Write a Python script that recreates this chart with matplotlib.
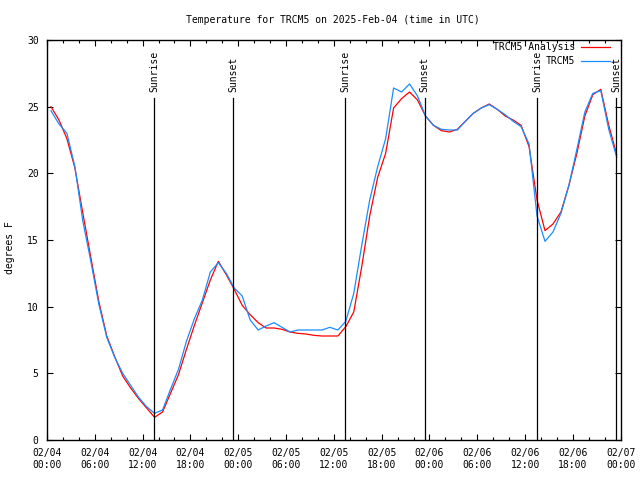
import numpy as np
import matplotlib
matplotlib.use("Agg")
import matplotlib.pyplot as plt
from matplotlib.ticker import MultipleLocator, FixedLocator

plt.rcParams['font.family'] = 'DejaVu Sans Mono'
plt.rcParams['font.size'] = 7

# hours since 2025-02-04 00:00 UTC (values sit on the half hour)
hours = np.arange(72) + 0.5

# TRCM5 analysis (red)
analysis = [25.0, 24.0, 22.6, 20.4, 17.0, 13.7, 10.4, 7.8, 6.25, 4.8,
            3.9, 3.1, 2.4, 1.7, 2.1, 3.5, 4.9, 6.8, 8.6, 10.3,
            12.0, 13.4, 12.4, 11.3, 10.1, 9.4, 8.8, 8.4, 8.4, 8.3,
            8.1, 8.0, 7.95, 7.85, 7.8, 7.8, 7.8, 8.5, 9.6, 13.0,
            16.8, 19.7, 21.5, 24.9, 25.6, 26.1, 25.5, 24.3, 23.6, 23.2,
            23.1, 23.3, 23.9, 24.5, 24.9, 25.2, 24.8, 24.3, 24.0, 23.6,
            22.0, 18.0, 15.7, 16.2, 17.1, 19.1, 21.5, 24.3, 25.9, 26.3,
            23.6, 21.4]

# TRCM5 observations (blue)
observed = [24.7, 23.7, 23.0, 20.5, 16.4, 13.4, 10.2, 7.7, 6.2, 5.0,
            4.1, 3.2, 2.5, 2.0, 2.25, 3.8, 5.3, 7.4, 9.1, 10.5,
            12.6, 13.3, 12.5, 11.4, 10.8, 9.0, 8.25, 8.55, 8.8, 8.45,
            8.1, 8.25, 8.25, 8.25, 8.25, 8.45, 8.25, 8.9, 11.0, 14.6,
            18.0, 20.5, 22.6, 26.4, 26.1, 26.7, 25.8, 24.3, 23.6, 23.3,
            23.25, 23.25, 23.9, 24.5, 24.9, 25.15, 24.8, 24.4, 23.9, 23.5,
            22.2, 16.8, 14.9, 15.6, 17.0, 19.1, 21.8, 24.6, 26.0, 26.2,
            23.3, 21.2]

# sunrise / sunset times (hours since start)
sun_times = [13.45, 23.4, 37.4, 47.42, 61.5, 71.45]
sun_labels = ['Sunrise', 'Sunset', 'Sunrise', 'Sunset', 'Sunrise', 'Sunset']

tick_labels = ['02/04\n00:00', '02/04\n06:00', '02/04\n12:00', '02/04\n18:00',
               '02/05\n00:00', '02/05\n06:00', '02/05\n12:00', '02/05\n18:00',
               '02/06\n00:00', '02/06\n06:00', '02/06\n12:00', '02/06\n18:00',
               '02/07\n00:00']

fig = plt.figure(figsize=(6.4, 4.8), dpi=100)
ax = fig.add_axes([47/640, 40/480, (620.7-47)/640, 400/480])

ax.plot(hours, analysis, color='red', lw=0.9, label='TRCM5 Analysis')
ax.plot(hours, observed, color='#1a8cff', lw=0.9, label='TRCM5')

for t, lab in zip(sun_times, sun_labels):
    ax.plot([t, t], [0, 25.65], color='black', lw=0.9)
    ax.text(t, 26.1, lab, rotation=90, ha='center', va='bottom')

ax.set_xlim(0, 72)
ax.set_ylim(0, 30)
ax.xaxis.set_major_locator(FixedLocator(np.arange(0, 73, 6)))
ax.set_xticklabels(tick_labels)
ax.xaxis.set_minor_locator(MultipleLocator(2))
ax.yaxis.set_major_locator(MultipleLocator(5))
ax.tick_params(which='major', direction='in', length=4.5, width=0.8,
               top=True, right=True)
ax.tick_params(which='minor', direction='in', length=2, width=0.8,
               top=True, right=False)
ax.tick_params(axis='x', pad=6)
ax.tick_params(axis='y', pad=6)
for sp in ax.spines.values():
    sp.set_linewidth(1)

fig.text(333/640, 1 - 20/480, 'Temperature for TRCM5 on 2025-Feb-04 (time in UTC)',
         ha='center', va='center')
fig.text(10/640, 1 - 248/480, 'degrees F', rotation=90, ha='center', va='center')

ax.legend(loc='upper right', bbox_to_anchor=(0.982, 0.995), markerfirst=False,
          frameon=False, handlelength=3.0, handletextpad=0.6,
          borderaxespad=0, borderpad=0, labelspacing=0.45, fontsize=7)

fig.savefig('out.png', dpi=100)
